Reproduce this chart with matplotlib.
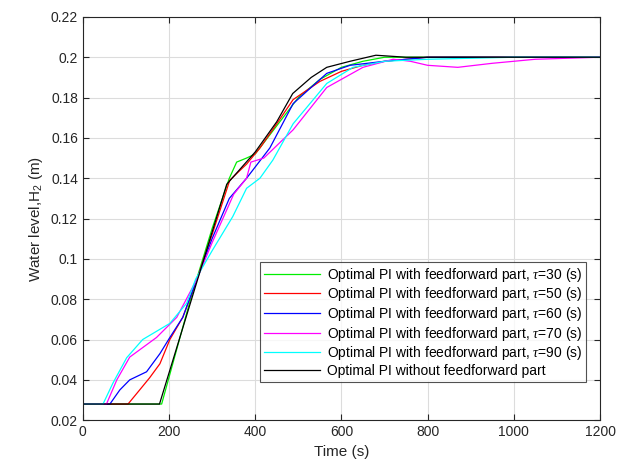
import matplotlib
matplotlib.use("Agg")
import matplotlib.pyplot as plt

plt.rcParams['font.family'] = ['Liberation Sans', 'DejaVu Sans']
plt.rcParams['mathtext.fontset'] = 'custom'
plt.rcParams['mathtext.it'] = 'Liberation Serif:italic'
plt.rcParams['mathtext.rm'] = 'Liberation Sans'

# --- data ---
t_g = [0, 183, 250, 300, 340, 357, 380, 400, 450, 500, 550, 600, 650, 700, 800, 900, 1000, 1100, 1200]
h_g = [0.028, 0.028, 0.080, 0.115, 0.140, 0.148, 0.150, 0.152, 0.166, 0.180, 0.189, 0.195, 0.198, 0.200, 0.200, 0.200, 0.200, 0.200, 0.200]

t_r = [0, 105, 132, 155, 179, 202, 232, 265, 300, 341, 380, 411, 450, 488, 550, 600, 650, 700, 800, 1000, 1200]
h_r = [0.028, 0.028, 0.035, 0.041, 0.048, 0.060, 0.071, 0.090, 0.112, 0.139, 0.147, 0.155, 0.167, 0.179, 0.188, 0.193, 0.196, 0.198, 0.200, 0.200, 0.200]

t_b = [0, 63, 86, 109, 148, 179, 202, 232, 265, 300, 340, 380, 434, 488, 566, 620, 700, 800, 1000, 1200]
h_b = [0.028, 0.028, 0.035, 0.040, 0.044, 0.053, 0.061, 0.071, 0.090, 0.110, 0.130, 0.140, 0.155, 0.177, 0.192, 0.196, 0.198, 0.200, 0.200, 0.200]

t_m = [0, 55, 79, 109, 171, 218, 265, 300, 350, 380, 390, 420, 488, 566, 650, 720, 760, 800, 870, 950, 1050, 1200]
h_m = [0.028, 0.028, 0.040, 0.0513, 0.061, 0.071, 0.090, 0.108, 0.132, 0.140, 0.148, 0.150, 0.164, 0.185, 0.195, 0.199, 0.198, 0.196, 0.195, 0.197, 0.199, 0.200]

t_c = [0, 47, 70, 102, 139, 202, 241, 262, 300, 348, 380, 411, 441, 488, 566, 627, 700, 800, 1000, 1200]
h_c = [0.028, 0.028, 0.0384, 0.051, 0.060, 0.068, 0.078, 0.090, 0.104, 0.121, 0.135, 0.140, 0.149, 0.167, 0.187, 0.195, 0.198, 0.199, 0.200, 0.200]

t_k = [0, 178, 334, 400, 450, 487, 530, 566, 620, 680, 750, 800, 1000, 1200]
h_k = [0.028, 0.028, 0.137, 0.153, 0.168, 0.182, 0.190, 0.195, 0.198, 0.201, 0.200, 0.200, 0.200, 0.200]

labels = [r"Optimal PI with feedforward part, $\tau$=30 (s)",
          r"Optimal PI with feedforward part, $\tau$=50 (s)",
          r"Optimal PI with feedforward part, $\tau$=60 (s)",
          r"Optimal PI with feedforward part, $\tau$=70 (s)",
          r"Optimal PI with feedforward part, $\tau$=90 (s)",
          "Optimal PI without feedforward part"]

xticks = [0, 200, 400, 600, 800, 1000, 1200]
yticks = [0.02, 0.04, 0.06, 0.08, 0.10, 0.12, 0.14, 0.16, 0.18, 0.20, 0.22]
yticklabels = ["0.02", "0.04", "0.06", "0.08", "0.1", "0.12", "0.14", "0.16", "0.18", "0.2", "0.22"]

fig = plt.figure(figsize=(6.27, 4.70), dpi=100)
ax = fig.add_axes([0.132, 0.106, 0.825, 0.858])

series = [(t_g, h_g, '#00ee00'), (t_r, h_r, '#ff0000'), (t_b, h_b, '#0000ff'),
          (t_m, h_m, '#ff00ff'), (t_c, h_c, '#00ffff'), (t_k, h_k, '#000000')]
for (t, h, c), lab in zip(series, labels):
    ax.plot(t, h, color=c, lw=0.9, label=lab)

ax.set_xlim(0, 1200)
ax.set_ylim(0.02, 0.22)
ax.set_xticks(xticks)
ax.set_yticks(yticks)
ax.set_yticklabels(yticklabels)
ax.grid(True, color='#dcdcdc', lw=0.8)
ax.set_axisbelow(True)
ax.tick_params(direction='in', top=True, right=True, labelsize=10, colors='#262626', length=4)
for s in ax.spines.values():
    s.set_color('#262626')
    s.set_linewidth(0.8)
ax.set_xlabel("Time (s)", fontsize=11, color='#262626')
ax.set_ylabel("Water level,H$_2$ (m)", fontsize=11, color='#262626')

leg = ax.legend(loc='lower right', bbox_to_anchor=(0.987, 0.077), fontsize=10,
                frameon=True, fancybox=False, edgecolor='#262626',
                handlelength=4.0, borderpad=0.3, labelspacing=0.12, handletextpad=0.5)
leg.get_frame().set_linewidth(0.8)

fig.savefig("out.png", dpi=100)
